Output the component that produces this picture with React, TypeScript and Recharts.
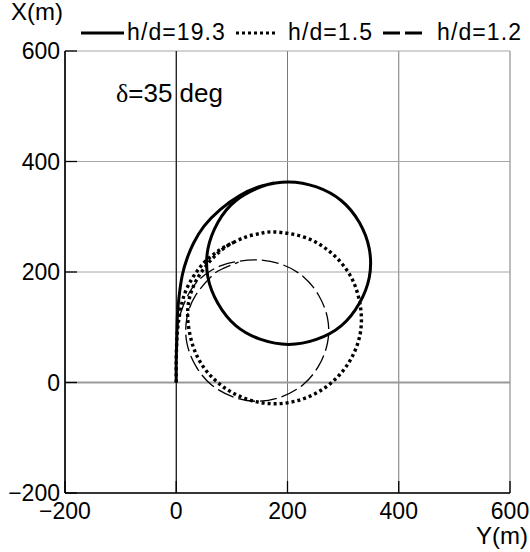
import React from 'react';
import { LineChart, Line, XAxis, YAxis, CartesianGrid, ReferenceLine } from 'recharts';

const FONT = "'Liberation Sans', Arial, Helvetica, sans-serif";
const SERIF = "'Liberation Serif', 'DejaVu Serif', serif";

// Axis range and tick values (metres)
const axisTicks = [-200, 0, 200, 400, 600];
const axisDomain: [number, number] = [-200, 600];

// Turning trajectories: Y (transfer) and X (advance) in metres
// h/d = 19.3
const deepY = [0, 0, 1, 2, 5, 11, 20, 31, 50, 79, 115, 155, 202, 252, 297, 329, 347, 347, 329, 297, 252, 202, 152, 107, 75, 57, 57, 75, 107, 152, 176];
const deepX = [0, 40, 80, 120, 155, 195, 226, 252, 283, 313, 339, 356, 363, 354, 329, 290, 242, 190, 143, 103, 78, 69, 78, 103, 143, 190, 242, 290, 329, 354, 361];

// h/d = 1.5
const midY = [0, 0, 1, 4, 11, 19, 29, 40, 52, 70, 88, 110, 130, 152, 177, 230, 277, 312, 330, 331, 312, 277, 230, 177, 124, 77, 42, 24, 22, 42, 77, 104];
const midX = [0, 40, 75, 110, 147, 170, 189, 205, 219, 234, 246, 257, 265, 270, 272.5, 263, 236, 195, 144, 90, 39, -2, -29, -38.5, -29, -2, 39, 90, 144, 195, 236, 254];

// h/d = 1.2
const shallowY = [0, 0, 1, 4, 10, 18, 28, 42, 60, 82, 110, 145.5, 189, 228, 256, 272, 272, 256, 228, 189, 145.5, 102, 63, 35, 19, 19, 35, 63, 81.5, 112];
const shallowX = [0, 40, 80, 110, 132, 152, 170, 187, 201, 212, 219, 222, 214, 192, 158, 116, 72, 30, -4, -26, -34, -26, -4, 30, 72, 116, 158, 192, 205, 218];

const seriesNames = ['h/d=19.3', 'h/d=1.5', 'h/d=1.2'];

const toPoints = (ys: number[], xs: number[]) => ys.map((y, i) => ({ y, x: xs[i] }));

const series = [
  { name: seriesNames[0], data: toPoints(deepY, deepX), width: 3, dash: undefined as string | undefined },
  { name: seriesNames[1], data: toPoints(midY, midX), width: 3.4, dash: '3 3' },
  { name: seriesNames[2], data: toPoints(shallowY, shallowX), width: 1.3, dash: '17 5' },
];

const fmt = (v: number) => (v < 0 ? `\u2212${-v}` : `${v}`);
const EmptyTick = () => <g />;

const frame = { stroke: '#000', strokeWidth: 1.6 };
const tickLn = { stroke: '#000', strokeWidth: 1.3 };
const tickText = { fill: '#000', fontSize: 23, fontFamily: FONT };

export default function App() {
  return (
    <div style={{ position: 'absolute', left: 0, top: 0, width: 530, height: 552, background: '#fff' }}>
      <LineChart width={530} height={552} margin={{ top: 51, right: 20, bottom: 29, left: 0 }}>
        <CartesianGrid horizontal={false} stroke="#7a7a7a" strokeWidth={1} />
        <CartesianGrid vertical={false} stroke="#a6a6a6" strokeWidth={1} />
        <ReferenceLine y={0} stroke="#9a9a9a" strokeWidth={2} />
        <ReferenceLine x={0} stroke="#000" strokeWidth={1} />
        <XAxis
          type="number"
          dataKey="y"
          domain={axisDomain}
          ticks={axisTicks}
          interval={0}
          allowDataOverflow
          height={30}
          tickSize={-12}
          tickMargin={22}
          axisLine={frame}
          tickLine={tickLn}
          tick={tickText}
          tickFormatter={fmt}
        />
        <YAxis
          type="number"
          dataKey="x"
          domain={axisDomain}
          ticks={axisTicks}
          interval={0}
          allowDataOverflow
          width={65}
          tickSize={-12}
          tickMargin={17}
          axisLine={frame}
          tickLine={tickLn}
          tick={tickText}
          tickFormatter={fmt}
        />
        <XAxis
          xAxisId="top"
          orientation="top"
          type="number"
          domain={axisDomain}
          ticks={axisTicks}
          interval={0}
          allowDataOverflow
          height={0}
          tickSize={-12}
          axisLine={frame}
          tickLine={tickLn}
          tick={EmptyTick}
        />
        <YAxis
          yAxisId="right"
          orientation="right"
          type="number"
          domain={axisDomain}
          ticks={axisTicks}
          interval={0}
          allowDataOverflow
          width={0}
          tickSize={-12}
          axisLine={frame}
          tickLine={tickLn}
          tick={EmptyTick}
        />
        {series.map((s) => (
          <Line
            key={s.name}
            name={s.name}
            data={s.data}
            dataKey="x"
            type="natural"
            stroke="#000"
            strokeWidth={s.width}
            strokeDasharray={s.dash}
            dot={false}
            activeDot={false}
            isAnimationActive={false}
          />
        ))}
      </LineChart>
      <svg
        width={530}
        height={552}
        style={{ position: 'absolute', left: 0, top: 0, pointerEvents: 'none' }}
        fontFamily={FONT}
      >
        <text x={11} y={20} fontSize={24} fill="#000">X(m)</text>
        <text x={528} y={544} fontSize={24} fill="#000" textAnchor="end">Y(m)</text>

        <line x1={81} y1={33} x2={124} y2={33} stroke="#000" strokeWidth={3} />
        <text x={127} y={40} fontSize={23} letterSpacing={1.1} fill="#000">{seriesNames[0]}</text>
        <line x1={236} y1={33} x2={276} y2={33} stroke="#000" strokeWidth={3} strokeDasharray="3 3" />
        <text x={288} y={40} fontSize={23} letterSpacing={1.1} fill="#000">{seriesNames[1]}</text>
        <line x1={383} y1={33} x2={422} y2={33} stroke="#000" strokeWidth={3} strokeDasharray="17 5" />
        <text x={437} y={40} fontSize={23} letterSpacing={1.1} fill="#000">{seriesNames[2]}</text>

        <text x={116} y={102} fontSize={26} fill="#000">
          <tspan fontFamily={SERIF}>δ</tspan>
          <tspan>=35 deg</tspan>
        </text>
      </svg>
    </div>
  );
}
